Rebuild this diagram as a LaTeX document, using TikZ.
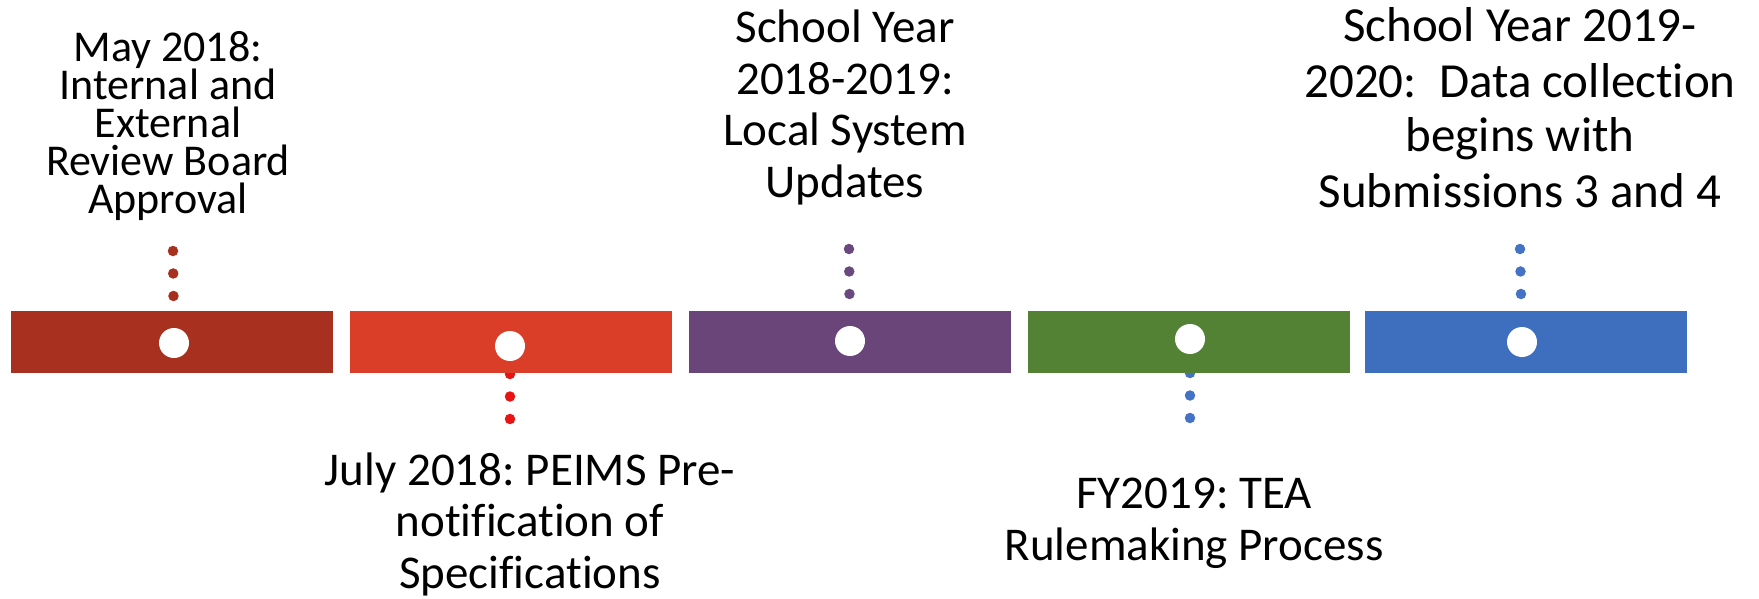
\documentclass[tikz,border=0pt]{standalone}
\usepackage{fontspec}
\setmainfont{Carlito}[Ligatures=NoCommon]
\frenchspacing
\definecolor{cA}{HTML}{A8301F}
\definecolor{cB}{HTML}{DA3E28}
\definecolor{cC}{HTML}{69457A}
\definecolor{cD}{HTML}{548235}
\definecolor{cE}{HTML}{3E6FBE}
\definecolor{dB}{HTML}{E81313}
\definecolor{dC}{HTML}{6A4A7E}
\definecolor{dE}{HTML}{4472C4}
\tikzset{
  barbox/.style={rectangle, draw=none, fill=#1, minimum width=322pt, minimum height=62pt, inner sep=0pt},
  hole/.style={circle, fill=white, draw=none, minimum size=30pt, inner sep=0pt},
  dotline/.style={draw=#1, line width=10.5pt, line cap=round, dash pattern=on 0pt off 22.5pt},
  lbl/.style={align=center, inner sep=0pt, anchor=base, text=black}
}
\begin{document}
\begin{tikzpicture}[x=1pt,y=-1pt]
\useasboundingbox (0,0) rectangle (1759,599);
% labels (anchored at the baseline of the last line)
\node[lbl, font=\fontsize{44}{38}\selectfont] (t1) at (168,213) {May 2018:\\Internal and\\External\\Review Board\\Approval};
\node[lbl, font=\fontsize{47}{51.5}\selectfont] (t2) at (845,197) {School Year\\2018-2019:\\Local System\\Updates};
\node[lbl, font=\fontsize{49}{55}\selectfont] (t3) at (1520,207) {School Year 2019-\\2020:~ Data collection\\begins with\\Submissions 3 and 4};
\node[lbl, font=\fontsize{47}{51.5}\selectfont] (t4) at (530,588) {July 2018: PEIMS Pre-\\notification of\\Specifications};
\node[lbl, font=\fontsize{47}{52}\selectfont] (t5) at (1194,560) {FY2019: TEA\\Rulemaking Process};
% circle positions
\coordinate (p1) at (174,343);
\coordinate (p2) at (510,346);
\coordinate (p3) at (850,341);
\coordinate (p4) at (1190,339);
\coordinate (p5) at (1522,342);
% dot connectors
\coordinate (d1) at (173,251);
\coordinate (d2) at (510,419);
\coordinate (d3) at (849,249);
\coordinate (d4) at (1190,418);
\coordinate (d5) at (1520,249);
\draw[dotline=cA] (d1) -- (p1);
\draw[dotline=dB] (d2) -- (p2);
\draw[dotline=dC] (d3) -- (p3);
\draw[dotline=dE] (d4) -- (p4);
\draw[dotline=dE] (d5) -- (p5);
% bars
\node[barbox=cA] (b1) at (172,342) {};
\node[barbox=cB] (b2) at (511,342) {};
\node[barbox=cC] (b3) at (850,342) {};
\node[barbox=cD] (b4) at (1189,342) {};
\node[barbox=cE] (b5) at (1526,342) {};
% holes
\node[hole] (c1) at (p1) {};
\node[hole] (c2) at (p2) {};
\node[hole] (c3) at (p3) {};
\node[hole] (c4) at (p4) {};
\node[hole] (c5) at (p5) {};
\end{tikzpicture}
\end{document}
